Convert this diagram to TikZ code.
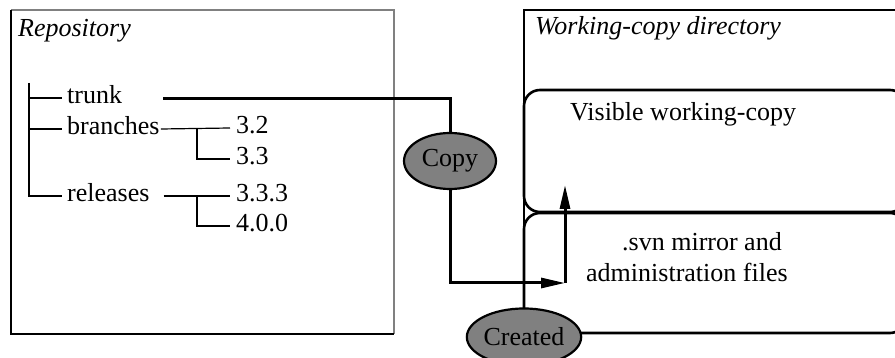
\documentclass[tikz,border=0pt]{standalone}
\usepackage{fontspec}
\setmainfont{Liberation Serif}
\usetikzlibrary{shapes.geometric,arrows.meta}
\begin{document}
\begin{tikzpicture}[x=1pt,y=-1pt,
  txt/.style={font=\fontsize{26}{31}\selectfont, inner sep=0pt, anchor=base west},
  ttl/.style={txt, font=\fontsize{26}{31}\selectfont\itshape},
  treeline/.style={line width=1.2pt, black},
  heavy/.style={line width=3pt, black},
  wcbox/.style={line width=2.6pt, black},
  oval/.style={ellipse, draw=black, line width=2.2pt, fill=black!50, inner sep=0pt,
    font=\fontsize{26}{31}\selectfont},
  tip/.style={-{Triangle[length=24pt,width=10pt]}}]
\useasboundingbox (0,0) rectangle (895,358);
\clip (0,0) rectangle (895,358);

% repository frame (etched look: dark left/bottom, grey top/right)
\draw[line width=1.6pt, black!50] (11,10) -- (394,10) -- (394,334);
\draw[line width=1.6pt, black] (11,10) -- (11,334) -- (394,334);
\node[ttl] (repo) at (18,37) {Repository};

% directory tree
\node[txt] (trunk) at (67,104) {trunk};
\node[txt] (branches) at (67,135) {branches};
\node[txt] (releases) at (67,202) {releases};
\node[txt] (b32) at (236,134) {3.2};
\node[txt] (b33) at (236,165) {3.3};
\node[txt] (r333) at (236,202) {3.3.3};
\node[txt] (r400) at (236,232) {4.0.0};

\coordinate (root) at (29,83);
\draw[treeline] (root) |- ([xshift=-5pt,yshift=6pt]releases.base west);
\draw[treeline] (root |- trunk.base) ++(0,-6) -- ([xshift=-5pt,yshift=6pt]trunk.base west);
\draw[treeline] (root |- branches.base) ++(0,-6) -- ([xshift=-5pt,yshift=6pt]branches.base west);

\draw[treeline] ([xshift=1pt,yshift=6pt]branches.base east) -- ([xshift=-6pt,yshift=6pt]b32.base west);
\draw[treeline] (197,129) |- ([xshift=-6pt,yshift=6pt]b33.base west);
\draw[treeline] ([xshift=14pt,yshift=6pt]releases.base east) -- ([xshift=-6pt,yshift=6pt]r333.base west);
\draw[treeline] (197,196) |- ([xshift=-6pt,yshift=6pt]r400.base west);

% working-copy directory
\node[ttl] (wc) at (535,35) {Working-copy directory};
\draw[wcbox, rounded corners=16pt] (524,90) rectangle (906,212);
\draw[wcbox, rounded corners=16pt] (524,213) rectangle (906,333);
\node[txt] (visible) at (570,121) {Visible working-copy};
\node[txt] (svnA) at (622,251) {.svn mirror and};
\node[txt] (svnB) at (586,282) {administration files};

% operations
\node[oval, minimum width=92pt, minimum height=56pt] (copy) at (450,161) {Copy};
\node[oval, minimum width=93pt, minimum height=57pt] (created) at (524,337) {Created};
\draw[wcbox] (created.north) -- (524,10) -- (910,10);

% connectors
\draw[heavy] ([xshift=41pt,yshift=5pt]trunk.base east) -| (copy.north);
\coordinate (turn) at (565,283);
\coordinate (up) at (565,185);
\draw[heavy, tip] (copy.south) |- (turn);
\draw[heavy, tip] (turn) -- (up);
\end{tikzpicture}
\end{document}
